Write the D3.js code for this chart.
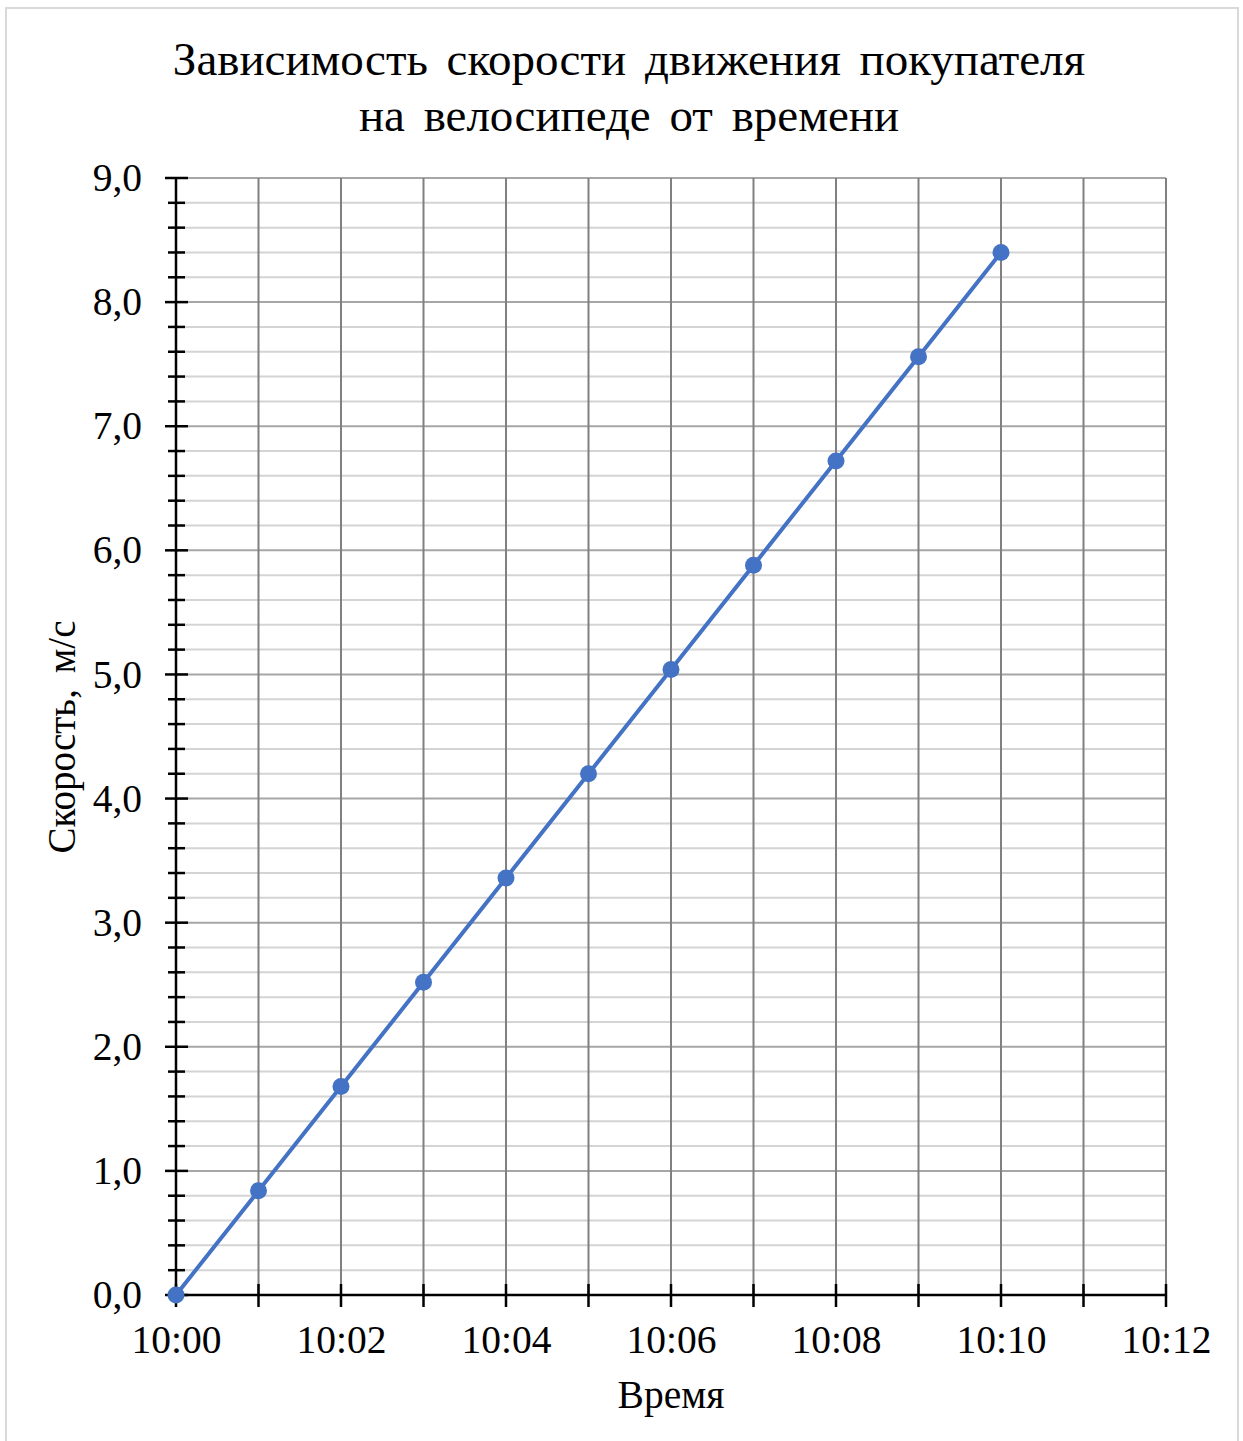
<!DOCTYPE html>
<html>
<head>
<meta charset="utf-8">
<script src="https://cdn.jsdelivr.net/npm/d3@7"></script>
<style>
  html, body { margin: 0; padding: 0; background: #fff; }
  svg text { font-family: "Liberation Serif", "Times New Roman", serif; fill: #000; }
</style>
</head>
<body>
<svg id="chart" width="1243" height="1441"></svg>
<script>
// Time of measurement and bicycle speed, m/s
const timeLabels = ["10:00", "10:01", "10:02", "10:03", "10:04", "10:05", "10:06", "10:07", "10:08", "10:09", "10:10"];
const speeds = [0.0, 0.84, 1.68, 2.52, 3.36, 4.20, 5.04, 5.88, 6.72, 7.56, 8.40];

const titleLines = ["Зависимость скорости движения покупателя", "на велосипеде от времени"];
const xTitle = "Время";
const yTitle = "Скорость, м/с";
const xDomain = ["10:00", "10:12"];
const yDomain = [0, 9];

const W = 1243, H = 1441;
const margin = { left: 176, right: W - 1166, top: 178, bottom: H - 1295 };

const parse = d3.timeParse("%H:%M");
const data = timeLabels.map((t, i) => ({ t: parse(t), v: speeds[i] }));

const svg = d3.select("#chart");

// outer frame
svg.append("rect")
  .attr("x", 6).attr("y", 8).attr("width", 1232).attr("height", 1445)
  .attr("fill", "#fff").attr("stroke", "#d9d9d9").attr("stroke-width", 2);

const x = d3.scaleTime().domain(xDomain.map(parse)).range([margin.left, W - margin.right]);
const y = d3.scaleLinear().domain(yDomain).range([H - margin.bottom, margin.top]);

const minorY = d3.range(0, 9.0001, 0.2).map(v => +v.toFixed(1));
const majorY = d3.range(0, 10, 1);
const minuteTicks = d3.timeMinute.range(parse("10:00"), d3.timeMinute.offset(parse("10:12"), 1));
const labelTicks = d3.timeMinute.every(2).range(parse("10:00"), d3.timeMinute.offset(parse("10:12"), 1));

// horizontal minor gridlines
svg.append("g").selectAll("line").data(minorY.filter(v => Math.abs(v - Math.round(v)) > 1e-6))
  .join("line")
  .attr("x1", x.range()[0]).attr("x2", x.range()[1])
  .attr("y1", d => y(d)).attr("y2", d => y(d))
  .attr("stroke", "#d4d4d4").attr("stroke-width", 2);

// horizontal major gridlines
svg.append("g").selectAll("line").data(majorY.filter(v => v > 0))
  .join("line")
  .attr("x1", x.range()[0]).attr("x2", x.range()[1])
  .attr("y1", d => y(d)).attr("y2", d => y(d))
  .attr("stroke", "#a6a6a6").attr("stroke-width", 2);

// vertical gridlines every minute
svg.append("g").selectAll("line").data(minuteTicks.slice(1))
  .join("line")
  .attr("x1", d => x(d)).attr("x2", d => x(d))
  .attr("y1", y.range()[0]).attr("y2", y.range()[1])
  .attr("stroke", "#808080").attr("stroke-width", 2);

// y axis: major ticks cross the axis line, minor ticks shorter
const yAxisG = svg.append("g").attr("transform", `translate(${margin.left},0)`);
yAxisG.call(d3.axisLeft(y).tickValues(majorY).tickSize(0).tickPadding(34)
    .tickFormat(d => d3.format(".1f")(d).replace(".", ",")))
  .call(g => g.select(".domain").remove())
  .call(g => g.selectAll("text").attr("font-size", 39.5).attr("dy", "0.32em"));
yAxisG.append("line").attr("y1", y.range()[1] - 1).attr("y2", y.range()[0] + 1)
  .attr("stroke", "#000").attr("stroke-width", 2.5);
yAxisG.append("g").selectAll("line").data(minorY)
  .join("line")
  .attr("x1", d => Number.isInteger(d) ? -11 : -8)
  .attr("x2", d => Number.isInteger(d) ? 12 : 9)
  .attr("y1", d => y(d)).attr("y2", d => y(d))
  .attr("stroke", "#000").attr("stroke-width", 2.5);

// x axis: line with crossing ticks each minute, labels every two minutes
const xAxisG = svg.append("g").attr("transform", `translate(0,${H - margin.bottom})`);
xAxisG.call(d3.axisBottom(x).tickValues(labelTicks).tickSize(0).tickPadding(30)
    .tickFormat(d3.timeFormat("%H:%M")))
  .call(g => g.select(".domain").remove())
  .call(g => g.selectAll("text").attr("font-size", 39.5).attr("dy", "0.71em"));
xAxisG.append("line").attr("x1", x.range()[0] - 1).attr("x2", x.range()[1] + 1)
  .attr("stroke", "#000").attr("stroke-width", 2.5);
xAxisG.append("g").selectAll("line").data(minuteTicks)
  .join("line")
  .attr("x1", d => x(d)).attr("x2", d => x(d))
  .attr("y1", -11).attr("y2", 12)
  .attr("stroke", "#000").attr("stroke-width", 2.5);

// data line and markers
svg.append("path").datum(data)
  .attr("fill", "none").attr("stroke", "#4472c4").attr("stroke-width", 4)
  .attr("d", d3.line().x(d => x(d.t)).y(d => y(d.v)));
svg.append("g").selectAll("circle").data(data)
  .join("circle")
  .attr("cx", d => x(d.t)).attr("cy", d => y(d.v)).attr("r", 8.5)
  .attr("fill", "#4472c4");

// titles
svg.append("g").selectAll("text").data(titleLines)
  .join("text")
  .attr("x", 629).attr("y", (d, i) => 75 + i * 56)
  .attr("text-anchor", "middle").attr("font-size", 47).attr("word-spacing", 7)
  .text(d => d);

svg.append("text")
  .attr("x", 671).attr("y", 1408)
  .attr("text-anchor", "middle").attr("font-size", 39.5)
  .text(xTitle);

svg.append("text")
  .attr("transform", "translate(75,737) rotate(-90)")
  .attr("text-anchor", "middle").attr("font-size", 39).attr("word-spacing", 6)
  .text(yTitle);
</script>
</body>
</html>
